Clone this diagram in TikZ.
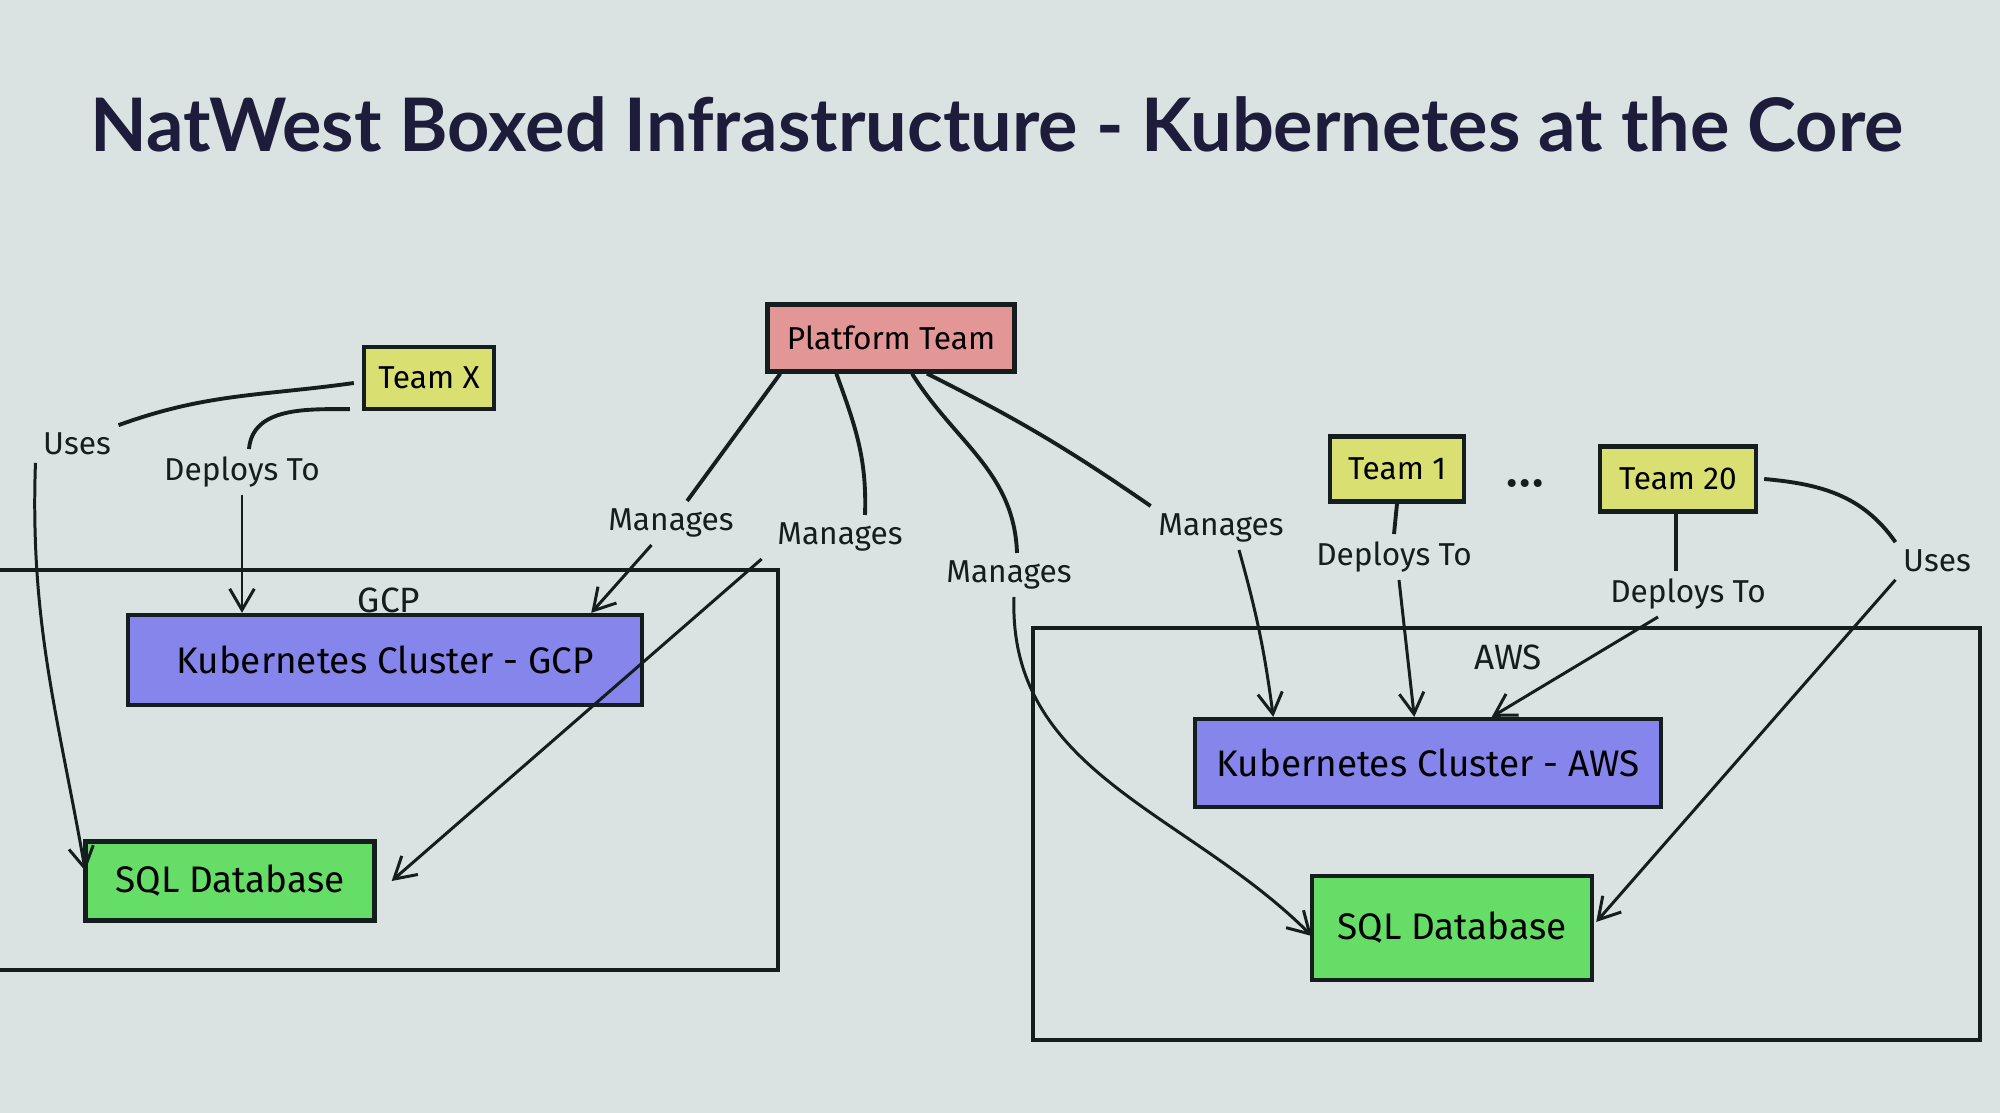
\documentclass[tikz,border=0pt]{standalone}
\usepackage{fontspec}
\setmainfont{Fira Sans}
\newfontfamily\titlefont{Lato}
\usetikzlibrary{arrows.meta,calc}
\definecolor{bgc}{RGB}{218,226,226}
\definecolor{teamc}{RGB}{217,223,112}
\definecolor{platc}{RGB}{226,150,150}
\definecolor{k8sc}{RGB}{133,133,235}
\definecolor{sqlc}{RGB}{102,221,102}
\definecolor{titlec}{RGB}{29,29,59}
\definecolor{inkc}{RGB}{20,30,30}
\tikzset{
  boxnode/.style={draw=inkc, line width=1.2pt, inner sep=0pt, align=center, font=\fontsize{9}{11}\selectfont},
  teambox/.style={boxnode, fill=teamc},
  platbox/.style={boxnode, fill=platc},
  k8sbox/.style={boxnode, fill=k8sc, font=\fontsize{10.5}{12}\selectfont},
  sqlbox/.style={boxnode, fill=sqlc, font=\fontsize{10.5}{12}\selectfont},
  lbl/.style={inner sep=2pt, text=inkc, font=\fontsize{9}{11}\selectfont},
  conn/.style={draw=inkc, line width=1.1pt},
  arr/.style={draw=inkc, line width=0.85pt, -{Straight Barb[length=6pt,width=7pt,line width=0.85pt]}},
  region/.style={draw=inkc, line width=1.0pt},
}
\begin{document}
\begin{tikzpicture}[x=0.01cm,y=-0.01cm]
\path[use as bounding box, fill=bgc] (0,0) rectangle (2000,1113);
\clip (0,0) rectangle (2000,1113);

\node[text=titlec, font=\titlefont\bfseries\fontsize{21}{25}\selectfont] (title) at (997,124) {NatWest Boxed Infrastructure - Kubernetes at the Core};

% regions
\draw[region] (-20,570) rectangle (778,970);
\draw[region] (1033,628) rectangle (1980,1040);
\node[lbl, font=\fontsize{10}{12}\selectfont] (gcp) at (389,600) {GCP};
\node[lbl, font=\fontsize{10}{12}\selectfont] (aws) at (1508,657) {AWS};

% nodes
\node[teambox, minimum width=1.30cm, minimum height=0.62cm] (teamx) at (429,378) {Team X};
\node[platbox, minimum width=2.47cm, minimum height=0.67cm] (plat) at (891,338) {Platform Team};
\node[teambox, minimum width=1.34cm, minimum height=0.65cm] (team1) at (1397,469) {Team 1};
\node[lbl, font=\fontsize{10}{12}\selectfont] (dots) at (1525,488) {\textbullet\kern0.5pt\textbullet\kern0.5pt\textbullet};
\node[teambox, minimum width=1.56cm, minimum height=0.65cm] (team20) at (1678,479) {Team 20};
\node[k8sbox, minimum width=5.14cm, minimum height=0.90cm] (k8sgcp) at (385,660) {Kubernetes Cluster - GCP};
\node[sqlbox, minimum width=2.89cm, minimum height=0.79cm] (sqlgcp) at (230,881) {SQL Database};
\node[k8sbox, minimum width=4.65cm, minimum height=0.88cm] (k8saws) at (1428,763) {Kubernetes Cluster - AWS};
\node[sqlbox, minimum width=2.80cm, minimum height=1.04cm] (sqlaws) at (1452,928) {SQL Database};

% labels
\node[lbl] (uses1) at (77,444) {Uses};
\node[lbl] (dep1) at (242,472) {Deploys To};
\node[lbl] (man1) at (671,523) {Manages};
\node[lbl] (man2) at (840,537) {Manages};
\node[lbl] (man3) at (1009,575) {Manages};
\node[lbl] (man4) at (1221,528) {Manages};
\node[lbl] (dep2) at (1394,557) {Deploys To};
\node[lbl] (dep3) at (1688,594) {Deploys To};
\node[lbl] (uses2) at (1937,561) {Uses};

% Team X
\draw[conn] ($(teamx.west)+(-8,5)$) to[out=188, in=20] (uses1.north east);
\draw[arr] (uses1.south west) to[out=-92, in=100] ($(sqlgcp.west)+(2,-10)$);
\draw[conn] ($(teamx.south west)+(-12,-2)$) to[out=180, in=85] ($(dep1.north)+(7,0)$);
\draw[arr] (dep1.south) -- (dep1.south |- k8sgcp.north);

% Platform team
\draw[conn] ($(plat.south west)+(15,0)$) -- (man1);
\draw[arr] (man1) -- ($(k8sgcp.north east)+(-53,0)$);
\draw[conn] ($(plat.south west)+(71,0)$) to[out=-70, in=88] ($(man2.north)+(25,0)$);
\draw[arr] ($(man2.south west)+(-8,0)$) -- ($(sqlgcp.east)+(15,0)$);
\draw[conn] ($(plat.south)+(21,0)$) to[out=-58, in=92] ($(man3.north)+(8,0)$);
\draw[arr] ($(man3.south)+(5,0)$) to[out=-92, in=135] ($(sqlaws.west)+(2,8)$);
\draw[conn] ($(plat.south)+(36,0)$) to[bend left=4] (man4.north west);
\draw[arr] ($(man4.south)+(18,0)$) to[bend left=4] ($(k8saws.north west)+(80,0)$);

% Team 1 and Team 20
\draw[conn] (team1.south) -- (dep2.north);
\draw[arr] ($(dep2.south)+(5,0)$) -- ($(k8saws.north west)+(221,0)$);
\draw[conn] ($(team20.south)+(-2,0)$) -- ($(dep3.north)+(-12,0)$);
\draw[arr] ($(dep3.south)+(-30,0)$) -- ($(k8saws.north east)+(-171,0)$);
\draw[conn] ($(team20.east)+(6,0)$) to[out=-5, in=125] (uses2.north west);
\draw[arr] (uses2.south west) -- ($(sqlaws.east)+(2,-6)$);
\end{tikzpicture}
\end{document}
